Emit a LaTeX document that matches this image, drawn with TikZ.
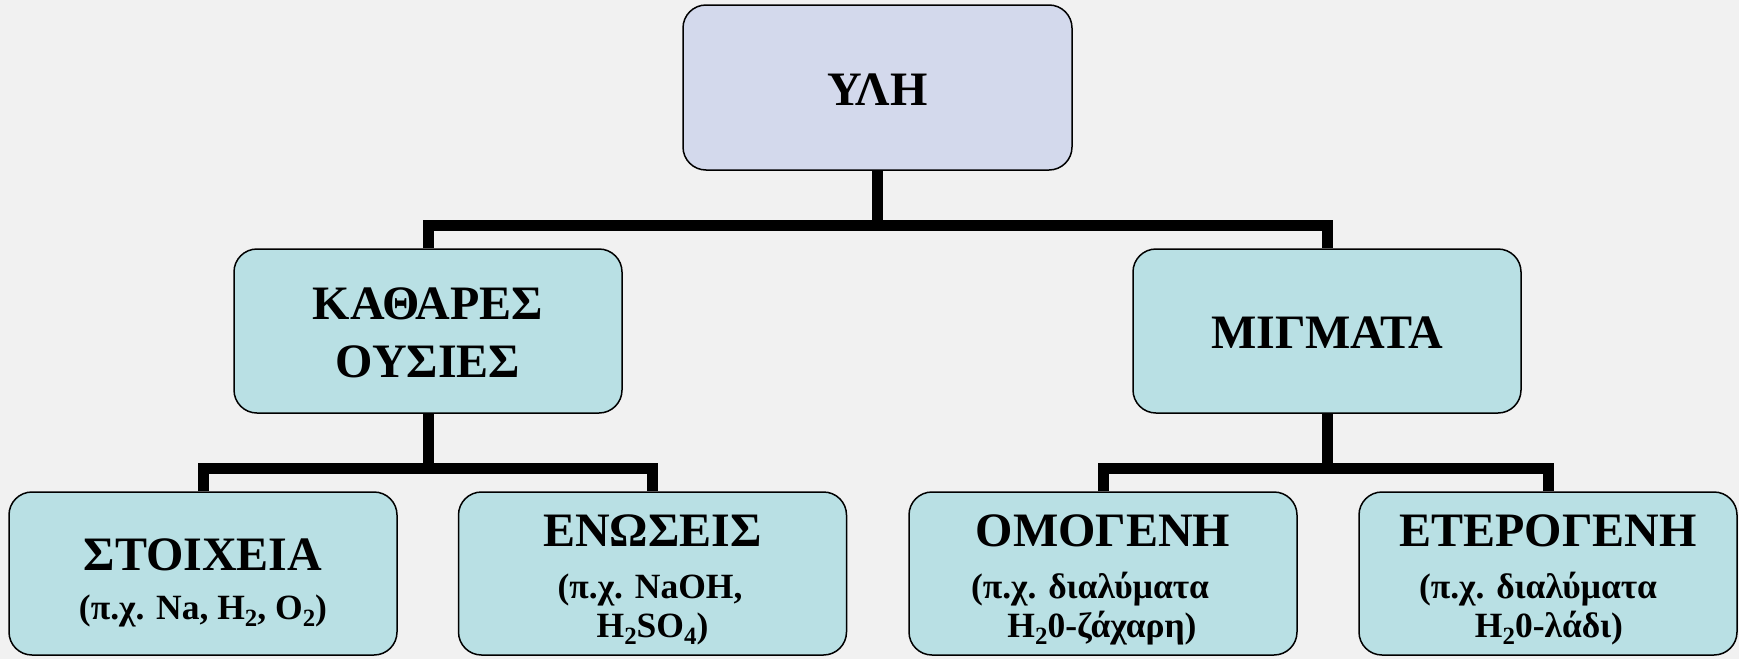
\documentclass[tikz,border=0pt]{standalone}
\usepackage{fontspec}
\setmainfont{Liberation Serif}
\usepackage{graphicx}
\definecolor{bgcol}{HTML}{F1F1F1}
\definecolor{topfill}{HTML}{D3D9EC}
\definecolor{boxfill}{HTML}{B9E0E4}
\newcommand\chsub[1]{\raisebox{-0.2em}{\scalebox{0.7}{#1}}}
\begin{document}
\begin{tikzpicture}[x=1pt,y=-1pt,
  box/.style={draw=black, line width=1.5pt, rounded corners=23pt, fill=boxfill,
    minimum width=388pt, minimum height=164pt, inner sep=0pt},
  big/.style={font=\fontsize{48}{58}\selectfont\bfseries, anchor=base, inner sep=0pt},
  small/.style={font=\fontsize{35.5}{36}\selectfont\bfseries, anchor=base, inner sep=0pt},
  bar/.style={line width=11pt, draw=black}]
\fill[bgcol] (0,0) rectangle (1739,659);
\useasboundingbox (0,0) rectangle (1739,659);
% top
\node[box, fill=topfill, minimum width=389pt, minimum height=165pt] (yli) at (877.5,87.5) {};
\node[big] (tyli) at (877.5,105) {ΥΛΗ};
% middle
\node[box] (kath) at (428,331) {};
\node[big] (tkath1) at (428,319) {ΚΑΘΑΡΕΣ};
\node[big] (tkath2) at (428,377) {ΟΥΣΙΕΣ};
\node[box] (mig) at (1327,331) {};
\node[big] (tmig) at (1327,348) {ΜΙΓΜΑΤΑ};
% bottom
\node[box, minimum height=163pt] (stoi) at (203,573.5) {};
\node[big] (tstoi1) at (203,570) {ΣΤΟΙΧΕΙΑ};
\node[small] (tstoi2) at (203,619) {(π.χ. Na, H\chsub{2}, O\chsub{2})};
\node[box, minimum height=163pt] (enos) at (652.5,573.5) {};
\node[big] (tenos1) at (652.5,546) {ΕΝΩΣΕΙΣ};
\node[small] (tenos2) at (650,598) {(π.χ. NaOH,};
\node[small] (tenos3) at (652.5,637) {H\chsub{2}SO\chsub{4})};
\node[box, minimum height=163pt] (omo) at (1103,573.5) {};
\node[big] (tomo1) at (1103,546) {ΟΜΟΓΕΝΗ};
\node[small] (tomo2) at (1090,598) {(π.χ. διαλύματα};
\node[small] (tomo3) at (1102,637) {H\chsub{2}0-ζάχαρη)};
\node[box, minimum height=163pt, minimum width=378pt] (ete) at (1548,573.5) {};
\node[big] (tete1) at (1548,546) {ΕΤΕΡΟΓΕΝΗ};
\node[small] (tete2) at (1538,598) {(π.χ. διαλύματα};
\node[small] (tete3) at (1549,637) {H\chsub{2}0-λάδι)};
% connectors
\coordinate (j1) at (877.5,225.5);
\coordinate (j2) at (428,468);
\coordinate (j3) at (1327,468);
\draw[bar] (yli.south) -- (j1);
\draw[bar] (kath.north) |- (j1) -| (mig.north);
\draw[bar] (kath.south) -- (j2);
\draw[bar] (stoi.north) |- (j2) -| (enos.north);
\draw[bar] (mig.south) -- (j3);
\draw[bar] (omo.north) |- (j3) -| (ete.north);
\end{tikzpicture}
\end{document}
